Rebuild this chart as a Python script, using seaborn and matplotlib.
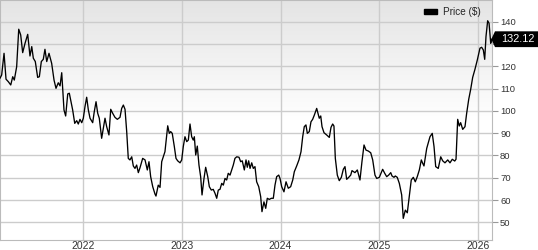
import numpy as np
import pandas as pd
import seaborn as sns
import matplotlib
matplotlib.use("Agg")
import matplotlib.pyplot as plt
import matplotlib.transforms as mtrans
from matplotlib.patches import Polygon, Patch

# ---- data (time as decimal year, price in $) ----
years = [
    2021.155, 2021.172, 2021.196, 2021.216, 2021.239, 2021.264, 2021.284, 2021.300, 2021.324, 2021.345,
    2021.365, 2021.385, 2021.409, 2021.436, 2021.459, 2021.477, 2021.493, 2021.513, 2021.537, 2021.554,
    2021.574, 2021.594, 2021.611, 2021.629, 2021.652, 2021.679, 2021.703, 2021.723, 2021.746, 2021.764,
    2021.781, 2021.804, 2021.821, 2021.842, 2021.858, 2021.892, 2021.913, 2021.933, 2021.949, 2021.966,
    2021.984, 2022.000, 2022.017, 2022.034, 2022.051, 2022.068, 2022.095, 2022.111, 2022.129, 2022.146,
    2022.162, 2022.186, 2022.203, 2022.220, 2022.237, 2022.260, 2022.278, 2022.298, 2022.321, 2022.345,
    2022.372, 2022.389, 2022.406, 2022.423, 2022.440, 2022.456, 2022.473, 2022.491, 2022.507, 2022.524,
    2022.541, 2022.558, 2022.575, 2022.602, 2022.626, 2022.649, 2022.666, 2022.683, 2022.704, 2022.727,
    2022.737, 2022.760, 2022.778, 2022.795, 2022.811, 2022.828, 2022.846, 2022.856, 2022.872, 2022.886,
    2022.902, 2022.923, 2022.940, 2022.957, 2022.981, 2022.998, 2023.014, 2023.031, 2023.049, 2023.065,
    2023.082, 2023.099, 2023.115, 2023.126, 2023.140, 2023.156, 2023.173, 2023.190, 2023.204, 2023.224,
    2023.241, 2023.262, 2023.278, 2023.298, 2023.318, 2023.336, 2023.353, 2023.369, 2023.386, 2023.404,
    2023.420, 2023.437, 2023.454, 2023.470, 2023.488, 2023.505, 2023.521, 2023.538, 2023.556, 2023.579,
    2023.596, 2023.612, 2023.633, 2023.650, 2023.663, 2023.677, 2023.691, 2023.708, 2023.724, 2023.741,
    2023.758, 2023.779, 2023.799, 2023.812, 2023.832, 2023.850, 2023.866, 2023.886, 2023.907, 2023.927,
    2023.944, 2023.961, 2023.982, 2023.995, 2024.012, 2024.035, 2024.056, 2024.079, 2024.103, 2024.124,
    2024.140, 2024.164, 2024.187, 2024.208, 2024.225, 2024.241, 2024.258, 2024.272, 2024.292, 2024.309,
    2024.326, 2024.343, 2024.367, 2024.380, 2024.393, 2024.408, 2024.421, 2024.441, 2024.468, 2024.495,
    2024.512, 2024.529, 2024.542, 2024.556, 2024.576, 2024.596, 2024.617, 2024.637, 2024.654, 2024.671,
    2024.692, 2024.712, 2024.725, 2024.755, 2024.779, 2024.806, 2024.826, 2024.847, 2024.867, 2024.890,
    2024.915, 2024.935, 2024.958, 2024.976, 2025.002, 2025.019, 2025.036, 2025.057, 2025.077, 2025.097,
    2025.118, 2025.131, 2025.151, 2025.164, 2025.184, 2025.205, 2025.229, 2025.245, 2025.266, 2025.286,
    2025.306, 2025.326, 2025.347, 2025.367, 2025.387, 2025.408, 2025.428, 2025.442, 2025.455, 2025.483,
    2025.516, 2025.539, 2025.557, 2025.574, 2025.600, 2025.625, 2025.645, 2025.668, 2025.696, 2025.719,
    2025.742, 2025.767, 2025.780, 2025.797, 2025.813, 2025.827, 2025.848, 2025.871, 2025.888, 2025.909,
    2025.929, 2025.949, 2025.972, 2025.996, 2026.023, 2026.040, 2026.057, 2026.071, 2026.084, 2026.101,
    2026.115, 2026.132, 2026.140,
]
prices = [
    114.6, 116.1, 125.8, 114.2, 113.1, 111.6, 115.3, 113.8, 119.8, 136.6,
    134.0, 126.1, 130.3, 134.3, 124.6, 128.8, 123.6, 122.1, 115.0, 115.3,
    122.1, 123.1, 127.6, 122.1, 125.8, 121.3, 113.8, 110.1, 112.6, 111.2,
    117.1, 100.4, 97.7, 107.6, 107.9, 100.4, 94.4, 95.6, 94.1, 96.2,
    94.7, 96.7, 101.9, 106.1, 100.4, 96.7, 94.7, 99.6, 104.1, 98.9,
    96.7, 87.7, 92.2, 96.7, 92.9, 89.2, 100.7, 98.9, 97.1, 96.2,
    97.1, 101.1, 102.6, 100.7, 90.7, 78.7, 78.0, 79.4, 75.3, 74.2,
    75.7, 72.3, 74.5, 78.7, 78.0, 73.5, 77.2, 70.5, 66.0, 62.7,
    61.8, 66.7, 65.7, 77.2, 79.4, 81.7, 89.2, 93.3, 89.9, 90.7,
    89.9, 84.0, 78.7, 77.6, 76.7, 78.0, 84.0, 88.4, 86.2, 86.9,
    94.1, 88.4, 86.9, 88.4, 80.2, 84.2, 75.7, 70.5, 62.3, 69.7,
    74.7, 70.5, 66.0, 64.5, 64.8, 63.0, 60.8, 64.5, 64.8, 67.5,
    66.7, 69.7, 69.0, 72.0, 71.2, 73.5, 75.7, 78.7, 79.4, 79.2,
    77.2, 77.6, 73.5, 78.0, 74.7, 77.6, 74.2, 76.7, 74.2, 75.0,
    68.2, 66.0, 61.5, 54.8, 59.2, 56.3, 60.8, 60.3, 60.8, 60.8,
    66.7, 70.5, 71.2, 69.7, 66.0, 63.7, 68.2, 65.3, 66.0, 69.0,
    72.7, 75.3, 78.0, 81.7, 88.4, 92.9, 93.7, 89.9, 90.7, 95.1,
    96.2, 98.1, 101.1, 98.9, 96.7, 97.7, 92.9, 90.2, 89.2, 88.1,
    92.6, 94.1, 93.2, 78.7, 71.2, 68.7, 70.2, 73.8, 75.0, 69.3,
    70.2, 71.2, 73.2, 72.3, 73.5, 69.0, 77.2, 84.7, 82.4, 82.0,
    81.2, 78.0, 71.2, 69.7, 70.2, 72.0, 73.8, 72.0, 70.5, 71.2,
    72.3, 70.8, 70.2, 70.8, 70.2, 67.5, 62.3, 51.8, 55.5, 54.3,
    61.5, 69.0, 70.2, 68.2, 70.5, 73.5, 78.0, 76.5, 75.3, 83.2,
    88.4, 89.9, 84.0, 75.0, 74.2, 79.4, 77.6, 76.7, 78.0, 76.7,
    78.3, 77.5, 78.3, 96.2, 93.2, 94.7, 91.7, 92.9, 98.9, 105.2,
    109.7, 115.0, 118.6, 122.8, 128.1, 128.5, 127.3, 123.1, 133.3, 140.4,
    139.3, 130.3, 132.12,
]
year_ticks = [2022, 2023, 2024, 2025, 2026]
year_labels = ["2022", "2023", "2024", "2025", "2026"]
price_ticks = [50, 60, 70, 80, 90, 100, 110, 120, 130, 140]
price_labels = ["50", "60", "70", "80", "90", "100", "110", "120", "", "140"]  # 130 hidden by tag
series_name = "Price ($)"
last_label = "132.12"

df = pd.DataFrame({"year": years, "price": prices})

sns.set_style("white")
plt.rcParams["font.family"] = ["Liberation Sans", "DejaVu Sans"]

fig = plt.figure(figsize=(5.38, 2.5), dpi=100)
ax = fig.add_axes([0, 0.04, 492 / 538, 0.96])

# background gradient (grey at top to white)
n = 240
f = np.linspace(0, 1, n)
top = 0.895
vals = top + (1 - top) * np.clip(f / 0.5, 0, 1)
grad = np.repeat(vals[:, None], 3, axis=1)[:, None, :]
ax.imshow(grad, extent=[0, 1, 0, 1], transform=ax.transAxes, aspect="auto",
          zorder=0, origin="upper", interpolation="bilinear")

sns.lineplot(data=df, x="year", y="price", color="black", lw=0.95, ax=ax, zorder=3)

ax.set_xlim(2021.155, 2026.145)
ax.set_ylim(42.1, 149.7)
ax.set_xticks(year_ticks)
ax.set_xticklabels(year_labels)
ax.set_yticks(price_ticks)
ax.set_yticklabels(price_labels)
ax.set_xlabel("")
ax.set_ylabel("")
ax.grid(True, color="#cccccc", lw=1.0)
ax.set_axisbelow(True)

ax.yaxis.tick_right()
ax.tick_params(axis="y", length=4.3, width=0.8, color="#999999", labelsize=6.8,
               labelcolor="#333333", pad=1.5)
ax.tick_params(axis="x", length=0, labelsize=7.5, labelcolor="#333333", pad=0.8)
for s in ax.spines.values():
    s.set_color("#bbbbbb")
    s.set_linewidth(0.8)

# legend
h = Patch(facecolor="black", edgecolor="black")
ax.legend([h], [series_name], loc="center right", bbox_to_anchor=(0.985, 0.95),
          frameon=False, fontsize=7.2, handlelength=1.3, handleheight=0.45,
          handletextpad=0.6, borderaxespad=0)

# last value tag
trans = fig.dpi_scale_trans + mtrans.ScaledTranslation(2026.145, prices[-1], ax.transData)
poly = Polygon([(-0.007, 0.0), (0.03, 0.079), (0.47, 0.079), (0.47, -0.079), (0.03, -0.079)],
               closed=True, facecolor="black", edgecolor="none", transform=trans,
               clip_on=False, zorder=5)
fig.add_artist(poly)
fig.text(0.255, 0.0, last_label, transform=trans, color="white", fontsize=7.8,
         ha="center", va="center", zorder=6)

fig.savefig("out.png", dpi=100)
